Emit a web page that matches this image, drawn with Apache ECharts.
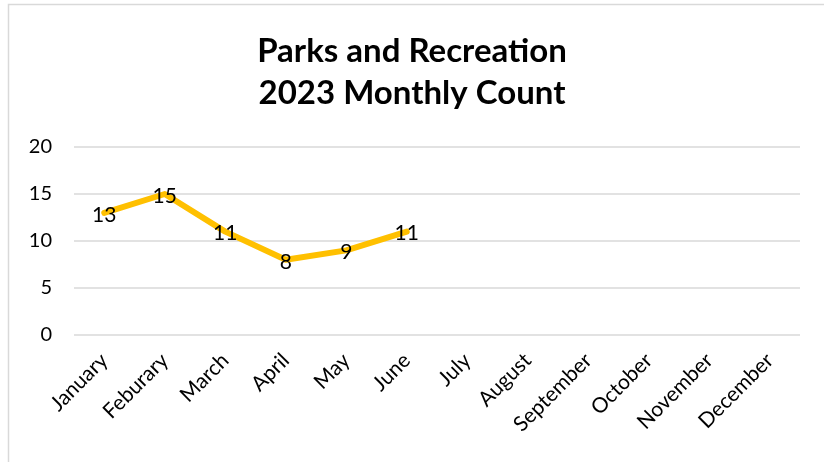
<!DOCTYPE html>
<html><head><meta charset="utf-8">
<script src="https://cdn.jsdelivr.net/npm/echarts@6/dist/echarts.min.js"></script>
<style>html,body{margin:0;padding:0;background:#fff}#c{width:824px;height:462px}</style>
</head><body><div id="c"></div>
<script>
var titleLines = ["Parks and Recreation", "2023 Monthly Count"];
var months = ["January","Feburary","March","April","May","June","July","August","September","October","November","December"];
var counts = [13, 15, 11, 8, 9, 11, null, null, null, null, null, null];
var yTicks = [0, 5, 10, 15, 20];

var chart = echarts.init(document.getElementById('c'));
chart.setOption({
  animation: false,
  backgroundColor: '#fff',
  graphic: [{type:'rect', shape:{x:8.5,y:4.5,width:900,height:600}, style:{fill:'none', stroke:'#d9d9d9', lineWidth:1.5}, silent:true}],
  title: {
    text: titleLines.join('\n'), left: 'center', top: 25,
    textStyle: {fontFamily:'Lato', fontWeight:'bold', fontSize:33, lineHeight:42, color:'#000'}
  },
  grid: {left: 74, right: 24, top: 147, height: 188},
  xAxis: {
    type:'category', data: months, boundaryGap: true,
    axisLine:{show:false}, axisTick:{show:false},
    axisLabel:{rotate:45, interval:0, fontFamily:'Lato', fontSize:21, color:'#000', margin:22}
  },
  yAxis: {
    type:'value', min: yTicks[0], max: yTicks[yTicks.length-1], interval: 5,
    axisLine:{show:false}, axisTick:{show:false},
    axisLabel:{fontFamily:'Lato', fontSize:20, color:'#000', margin:22},
    splitLine:{lineStyle:{color:'#d9d9d9', width:1.5}}
  },
  series: [{
    type:'line', data: counts, connectNulls:false, showSymbol:true, symbol:'circle', symbolSize:1,
    itemStyle:{color:'rgba(0,0,0,0)'},
    lineStyle:{color:'#FFC000', width:6, join:'round', cap:'round'},
    label:{show:true, position:'inside', offset:[0,2], fontFamily:'Lato', fontSize:21, color:'#000',
      formatter: function(p){return p.value==null?'':p.value;}}
  }]
});
</script></body></html>
